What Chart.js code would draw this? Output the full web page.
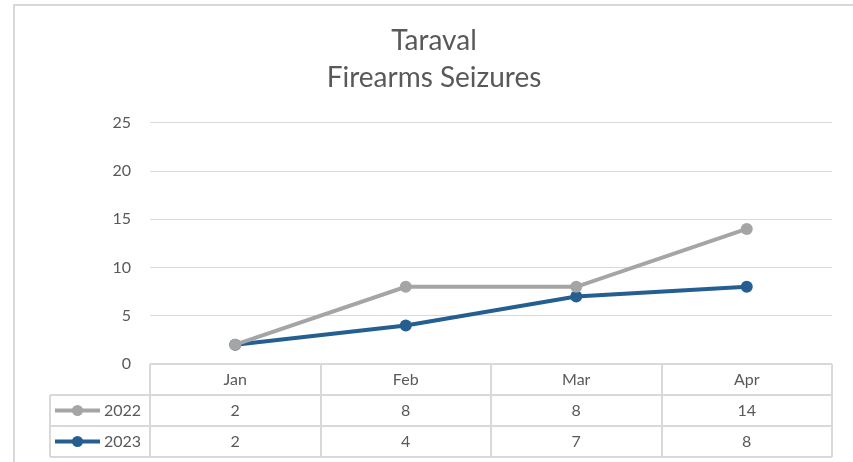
<!DOCTYPE html>
<html>
<head>
<meta charset="utf-8">
<title>Taraval Firearms Seizures</title>
<script src="https://cdn.jsdelivr.net/npm/chart.js@4"></script>
<style>
  html, body { margin: 0; padding: 0; background: #fff; }
  canvas { display: block; }
</style>
</head>
<body>
<canvas id="chart_taraval" width="853" height="462"></canvas>
<script>
var months = ['Jan', 'Feb', 'Mar', 'Apr'];
var seriesNames = ['2022', '2023'];
var values2022 = [2, 8, 8, 14];
var values2023 = [2, 4, 7, 8];
var yTicks = [0, 5, 10, 15, 20, 25];

var TEXT = '#595959';
var GRID = '#d9d9d9';
var colors = ['#a5a5a5', '#255e91'];

Chart.defaults.font.family = 'Lato, "Open Sans", sans-serif';
Chart.defaults.color = TEXT;

// border of the chart frame + data table under the plot
var tablePlugin = {
	id: 'dataTable',
	beforeDraw: function(chart) {
		var ctx = chart.ctx;
		ctx.save();
		ctx.strokeStyle = GRID;
		ctx.lineWidth = 2;
		ctx.strokeRect(14, 5, chart.width, chart.height);
		ctx.restore();
	},
	afterDraw: function(chart) {
		var ctx = chart.ctx;
		var area = chart.chartArea;
		var colW = area.width / months.length;
		var rowH = 31;
		var top = area.bottom;
		var keyLeft = 50;
		var rows = [values2022, values2023];

		ctx.save();
		ctx.strokeStyle = GRID;
		ctx.lineWidth = 2;
		// horizontal lines
		ctx.beginPath();
		ctx.moveTo(area.left, top);
		ctx.lineTo(area.right, top);
		for (var r = 1; r <= rows.length + 1; r++) {
			ctx.moveTo(keyLeft, top + r * rowH);
			ctx.lineTo(area.right, top + r * rowH);
		}
		// vertical lines
		ctx.moveTo(keyLeft, top + rowH);
		ctx.lineTo(keyLeft, top + 3 * rowH);
		for (var c = 0; c <= months.length; c++) {
			var x = Math.round(area.left + c * colW);
			ctx.moveTo(x, top);
			ctx.lineTo(x, top + 3 * rowH);
		}
		ctx.stroke();

		ctx.fillStyle = TEXT;
		ctx.font = '16px ' + Chart.defaults.font.family;
		ctx.textAlign = 'center';
		ctx.textBaseline = 'middle';
		months.forEach(function(m, i) {
			ctx.fillText(m, chart.scales.x.getPixelForValue(i), top + rowH / 2);
		});
		rows.forEach(function(vals, r) {
			var cy = top + rowH * (r + 1) + rowH / 2;
			vals.forEach(function(v, i) {
				ctx.fillText(v, chart.scales.x.getPixelForValue(i), cy);
			});
			// legend key
			ctx.strokeStyle = colors[r];
			ctx.lineWidth = 4;
			ctx.beginPath();
			ctx.moveTo(55, cy);
			ctx.lineTo(100, cy);
			ctx.stroke();
			ctx.fillStyle = colors[r];
			ctx.beginPath();
			ctx.arc(77.5, cy, 5.5, 0, Math.PI * 2);
			ctx.fill();
			ctx.fillStyle = TEXT;
			ctx.textAlign = 'left';
			ctx.fillText(seriesNames[r], 104, cy);
			ctx.textAlign = 'center';
		});
		ctx.restore();
	}
};

window.lineChart = new Chart(document.getElementById('chart_taraval'), {
	type: 'line',
	data: {
		labels: months,
		datasets: [
			{
				label: seriesNames[0],
				data: values2022,
				borderColor: colors[0],
				backgroundColor: colors[0],
				borderWidth: 4,
				pointRadius: 6,
				pointHoverRadius: 6,
				pointBorderWidth: 0
			},
			{
				label: seriesNames[1],
				data: values2023,
				borderColor: colors[1],
				backgroundColor: colors[1],
				borderWidth: 4,
				pointRadius: 6,
				pointHoverRadius: 6,
				pointBorderWidth: 0
			}
		]
	},
	options: {
		responsive: false,
		animation: false,
		layout: {
			padding: { top: 4, left: 36, right: 21, bottom: 0 }
		},
		plugins: {
			legend: { display: false },
			tooltip: { enabled: false },
			title: {
				display: true,
				text: ['Taraval', 'Firearms Seizures'],
				color: TEXT,
				font: { size: 28, weight: 'normal', lineHeight: 1.3 },
				padding: { top: 19, bottom: 27 }
			}
		},
		scales: {
			x: {
				offset: true,
				grid: { display: false },
				border: { display: false },
				ticks: { display: false },
				afterFit: function(scale) { scale.height = 98; }
			},
			y: {
				min: yTicks[0],
				max: yTicks[yTicks.length - 1],
				ticks: { stepSize: yTicks[1] - yTicks[0], padding: 19, color: TEXT, font: { size: 16 } },
				grid: { color: GRID, lineWidth: 1, drawTicks: false },
				border: { display: false },
				afterFit: function(scale) { scale.width = 114; }
			}
		}
	},
	plugins: [tablePlugin]
});
</script>
</body>
</html>
